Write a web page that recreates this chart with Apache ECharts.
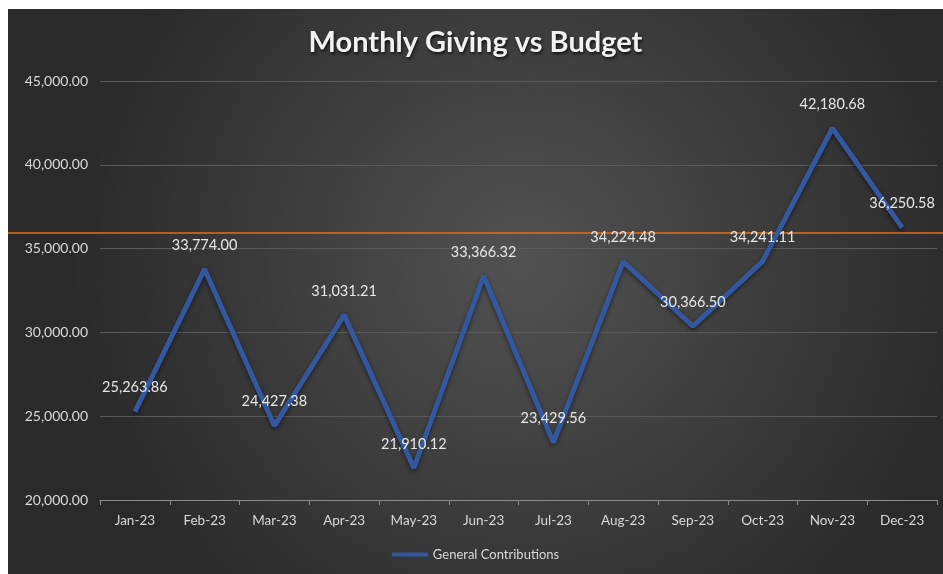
<!DOCTYPE html>
<html><head><meta charset="utf-8">
<script src="https://cdn.jsdelivr.net/npm/echarts@6/dist/echarts.min.js"></script>
<style>html,body{margin:0;padding:0;background:#fff;width:943px;height:574px;overflow:hidden}
#c{position:absolute;left:8px;top:9px;width:935px;height:565px}</style>
</head><body><div id="c"></div>
<script>
const months = ['Jan-23','Feb-23','Mar-23','Apr-23','May-23','Jun-23','Jul-23','Aug-23','Sep-23','Oct-23','Nov-23','Dec-23'];
const contributions = [25263.86,33774.00,24427.38,31031.21,21910.12,33366.32,23429.56,34224.48,30366.50,34241.11,42180.68,36250.58];
const budget = 35930;
const yTicks = {min:20000, max:45000, interval:5000};

const fmt = v => Number(v).toLocaleString('en-US',{minimumFractionDigits:2,maximumFractionDigits:2});
const FONT = 'Lato, "Open Sans", sans-serif';
const BLUE = '#3458a0';
const chart = echarts.init(document.getElementById('c'));
chart.setOption({
  backgroundColor: {type:'radial', x:0.55, y:0.45, r:0.8, colorStops:[{offset:0,color:'#525252'},{offset:1,color:'#2a2a2a'}]},
  animation:false,
  textStyle:{fontFamily:FONT},
  title:{text:'Monthly Giving vs Budget', left:'center', top:14,
    textStyle:{color:'#f2f2f2', fontSize:29, fontWeight:'bold', fontFamily:FONT,
      textShadowColor:'rgba(0,0,0,0.7)', textShadowBlur:3, textShadowOffsetX:1, textShadowOffsetY:2}},
  legend:{bottom:8, left:'center', itemWidth:36, itemHeight:4, icon:'rect',
    data:[{name:'General Contributions', icon:'rect', itemStyle:{color:BLUE, opacity:1}}],
    itemStyle:{color:BLUE},
    textStyle:{color:'#d9d9d9', fontSize:13, fontFamily:FONT}},
  grid:[
    {left:92, right:6, top:72, bottom:74, containLabel:false},
    {left:0, right:0, top:72, bottom:74, containLabel:false}
  ],
  xAxis:[
    {type:'category', gridIndex:0, data:months, boundaryGap:true,
      axisLine:{lineStyle:{color:'#8c8c8c', width:1}},
      axisTick:{show:true, lineStyle:{color:'#8c8c8c'}, length:5},
      axisLabel:{color:'#d9d9d9', fontSize:13.5, margin:14, fontFamily:FONT}},
    {type:'category', gridIndex:1, data:['a','b'], boundaryGap:false, show:false}
  ],
  yAxis:[
    {type:'value', gridIndex:0, min:yTicks.min, max:yTicks.max, interval:yTicks.interval,
      axisLine:{show:false}, axisTick:{show:false},
      splitLine:{lineStyle:{color:'#5a5a5a', width:1}},
      axisLabel:{color:'#d9d9d9', fontSize:14, margin:12, formatter:fmt, fontFamily:FONT}},
    {type:'value', gridIndex:1, min:yTicks.min, max:yTicks.max, show:false, splitLine:{show:false}}
  ],
  series:[
    {name:'General Contributions', type:'line', xAxisIndex:0, yAxisIndex:0, data:contributions,
      symbol:'circle', symbolSize:1, showSymbol:true, color:BLUE,
      itemStyle:{color:'rgba(0,0,0,0)', borderWidth:0},
      lineStyle:{color:BLUE, width:5, shadowColor:'rgba(0,0,0,0.5)', shadowBlur:4, shadowOffsetY:2},
      label:{show:true, position:'top', distance:16, color:'#e6e6e6', fontSize:14.5, fontFamily:FONT,
        formatter:p=>fmt(p.value)},
      z:3},
    {name:'Budget', type:'line', xAxisIndex:1, yAxisIndex:1, data:[budget,budget],
      symbol:'none', lineStyle:{color:'#e46c1a', width:1.5}, z:2, silent:true}
  ]
});
</script></body></html>
